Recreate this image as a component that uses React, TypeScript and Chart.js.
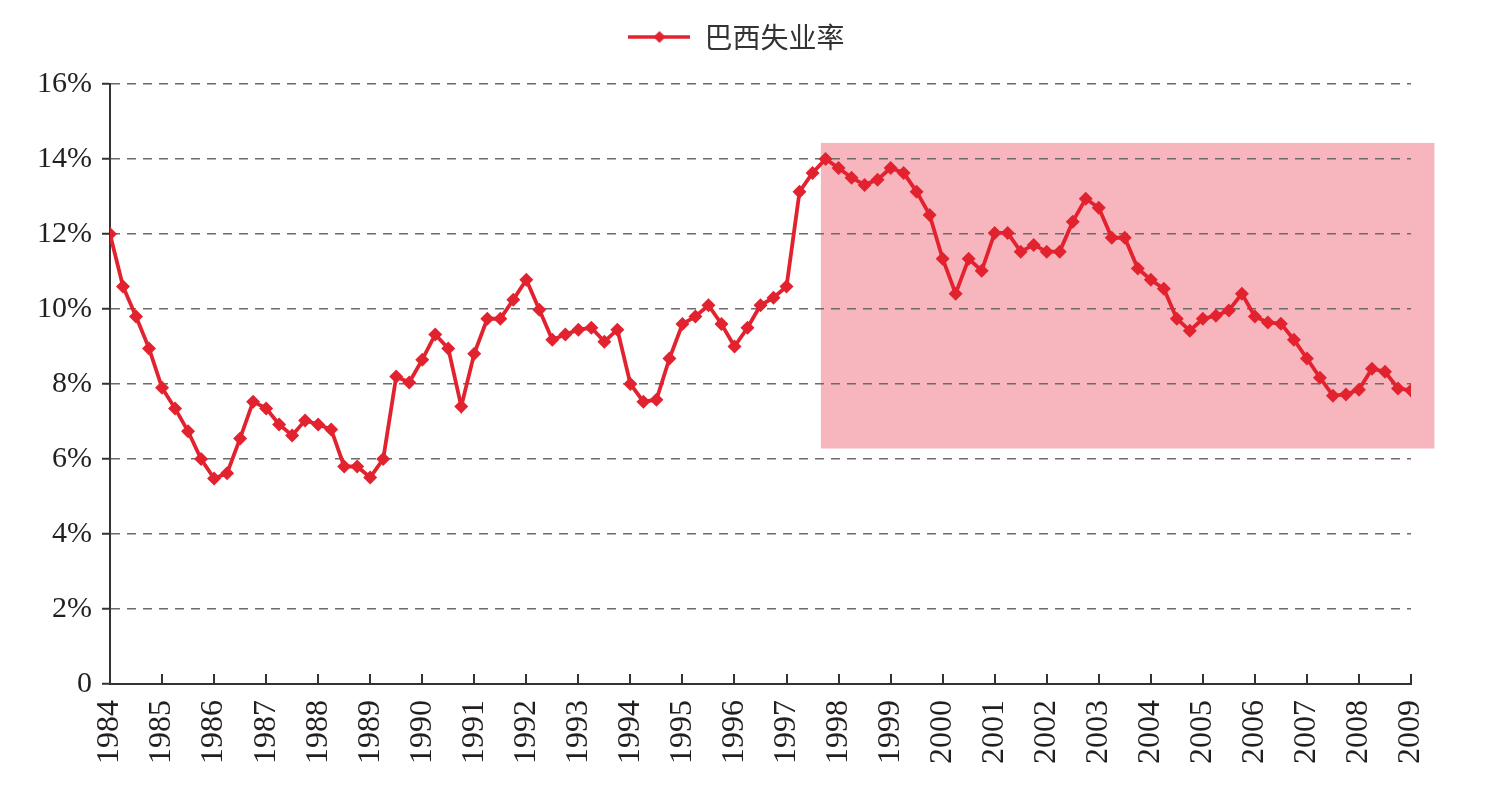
import React, { useEffect, useRef } from "react";
import { Chart, registerables } from "chart.js";

Chart.register(...registerables);

const seriesName = "巴西失业率";
const startYear = 1984;
const endYear = 2009;
const pointsPerYear = 4;
// Quarterly unemployment rate (%), 1984Q1 .. 2009Q1
const unemployment = [
  12.0, 10.6, 9.8, 8.95,
  7.9, 7.35, 6.74, 6.0,
  5.48, 5.62, 6.55, 7.53,
  7.35, 6.92, 6.63, 7.03,
  6.92, 6.79, 5.8, 5.8,
  5.51, 6.0, 8.2, 8.04,
  8.65, 9.32, 8.95, 7.4,
  8.81, 9.74, 9.74, 10.25,
  10.78, 9.98, 9.18, 9.32,
  9.45, 9.5, 9.13, 9.45,
  8.0, 7.53, 7.58, 8.68,
  9.6, 9.8, 10.1, 9.6,
  9.0, 9.5, 10.1, 10.3,
  10.6, 13.13, 13.63, 14.0,
  13.76, 13.5, 13.31, 13.45,
  13.76, 13.63, 13.13, 12.51,
  11.34, 10.41, 11.34, 11.02,
  12.03, 12.03, 11.53, 11.71,
  11.53, 11.53, 12.33, 12.94,
  12.7, 11.9, 11.9, 11.08,
  10.78, 10.54, 9.74, 9.42,
  9.74, 9.82, 9.96, 10.41,
  9.8, 9.64, 9.61, 9.18,
  8.68, 8.17, 7.69, 7.72,
  7.85, 8.41, 8.33, 7.88,
  7.83,
];
const yMin = 0;
const yMax = 16;
const yStep = 2;
// highlighted region, in data coordinates
const highlightX = [1997.66, 2009.45];
const highlightY = [6.28, 14.43];

const RED = "#E2232F";
const PINK = "#F7B6BE";
const TEXT = "#231F20";
const AXIS = "#333333";

function makeLegendImage(): HTMLCanvasElement {
  const c = document.createElement("canvas");
  c.width = 62;
  c.height = 14;
  const ctx = c.getContext("2d")!;
  ctx.strokeStyle = RED;
  ctx.lineWidth = 3.5;
  ctx.beginPath();
  ctx.moveTo(0, 7);
  ctx.lineTo(62, 7);
  ctx.stroke();
  ctx.fillStyle = RED;
  ctx.beginPath();
  ctx.moveTo(31, 1);
  ctx.lineTo(37, 7);
  ctx.lineTo(31, 13);
  ctx.lineTo(25, 7);
  ctx.closePath();
  ctx.fill();
  return c;
}

const highlightPlugin = {
  id: "highlightBox",
  beforeDraw(chart: any) {
    const { ctx, scales } = chart;
    const x0 = scales.x.getPixelForValue(highlightX[0]);
    const x1 = scales.x.getPixelForValue(highlightX[1]);
    const y0 = scales.y.getPixelForValue(highlightY[1]);
    const y1 = scales.y.getPixelForValue(highlightY[0]);
    ctx.save();
    ctx.fillStyle = PINK;
    ctx.fillRect(x0, y0, x1 - x0, y1 - y0);
    ctx.restore();
  },
};

const innerTicksPlugin = {
  id: "innerTicks",
  afterDatasetsDraw(chart: any) {
    const { ctx, scales, chartArea } = chart;
    ctx.save();
    ctx.strokeStyle = AXIS;
    ctx.lineWidth = 2;
    for (let yr = startYear + 1; yr <= endYear; yr++) {
      const px = Math.round(scales.x.getPixelForValue(yr));
      ctx.beginPath();
      ctx.moveTo(px, chartArea.bottom);
      ctx.lineTo(px, chartArea.bottom - 10);
      ctx.stroke();
    }
    ctx.restore();
  },
};

const legendSpacePlugin = {
  id: "legendSpace",
  beforeLayout(chart: any) {
    const legend = chart.legend;
    if (!legend || legend.__patched) return;
    legend.__patched = true;
    const origFit = legend.fit;
    legend.fit = function () {
      origFit.call(this);
      this.height += 23;
    };
  },
  afterLayout(chart: any) {
    const legend = chart.legend;
    if (!legend) return;
    legend.left += 31;
    legend.right += 31;
  },
};

export default function App() {
  const ref = useRef<HTMLCanvasElement | null>(null);

  useEffect(() => {
    if (!ref.current) return;
    const data = unemployment.map((v, i) => ({ x: startYear + i / pointsPerYear, y: v }));
    const legendImg = makeLegendImage();
    const chart = new Chart(ref.current, {
      type: "line",
      data: {
        datasets: [
          {
            label: seriesName,
            data,
            borderColor: RED,
            backgroundColor: RED,
            borderWidth: 3.8,
            pointStyle: "rectRot",
            pointRadius: 7,
            pointBackgroundColor: RED,
            pointBorderColor: RED,
            pointBorderWidth: 0,
            tension: 0,
          },
        ],
      },
      options: {
        responsive: false,
        animation: false,
        layout: { padding: { left: 0, right: 76, top: 0, bottom: 0 } },
        plugins: {
          legend: {
            display: true,
            position: "top",
            labels: {
              usePointStyle: true,
              pointStyleWidth: 62,
              padding: 23,
              color: "#333",
              font: { family: "'Noto Sans CJK SC', 'Noto Sans', sans-serif", size: 28 },
              generateLabels: (ch: any) =>
                ch.data.datasets.map((ds: any, i: number) => ({
                  text: ds.label,
                  pointStyle: legendImg,
                  fillStyle: RED,
                  strokeStyle: RED,
                  lineWidth: 0,
                  fontColor: "#333",
                  datasetIndex: i,
                  hidden: false,
                })),
            },
          },
          tooltip: { enabled: false },
        },
        scales: {
          x: {
            type: "linear",
            min: startYear,
            max: endYear,
            afterFit: (s: any) => {
              s.height = 111;
            },
            ticks: {
              stepSize: 1,
              autoSkip: false,
              maxRotation: 90,
              minRotation: 90,
              padding: 16,
              color: TEXT,
              font: { family: "'Liberation Serif', 'Times New Roman', serif", size: 32 },
              callback: (v: any) => String(v),
            },
            grid: { display: false, drawTicks: false, drawOnChartArea: false },
            border: { display: true, color: AXIS, width: 2 },
          },
          y: {
            type: "linear",
            min: yMin,
            max: yMax,
            afterFit: (s: any) => {
              s.width = 110;
            },
            ticks: {
              stepSize: yStep,
              padding: 10,
              color: TEXT,
              font: { family: "'Liberation Serif', 'Times New Roman', serif", size: 30 },
              callback: (v: any) => (v === 0 ? "0" : v + "%"),
            },
            grid: {
              display: true,
              drawOnChartArea: true,
              drawTicks: true,
              tickLength: 8,
              tickColor: AXIS,
              tickWidth: 2,
              tickBorderDash: [],
              lineWidth: 1.5,
              color: (ctx: any) => (ctx.tick && ctx.tick.value === 0 ? "rgba(0,0,0,0)" : "#6b6b6b"),
            },
            border: { display: true, color: AXIS, width: 2, dash: [9, 7] },
          },
        },
      },
      plugins: [highlightPlugin, innerTicksPlugin, legendSpacePlugin],
    } as any);
    return () => chart.destroy();
  }, []);

  return (
    <div style={{ position: "fixed", left: 0, top: 0, width: 1487, height: 795, background: "#fff" }}>
      <canvas ref={ref} width={1487} height={795} style={{ display: "block" }} />
    </div>
  );
}
